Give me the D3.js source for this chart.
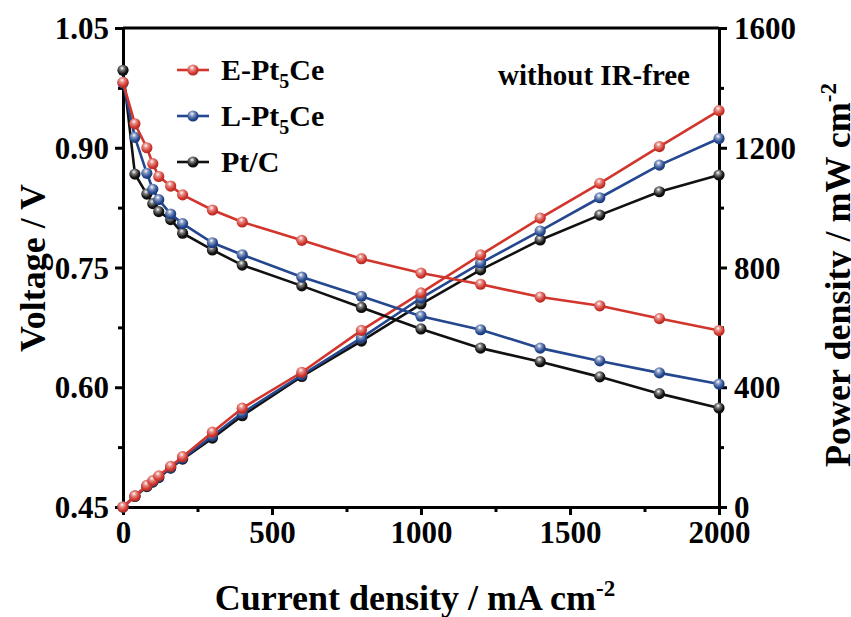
<!DOCTYPE html>
<html>
<head>
<meta charset="utf-8">
<script src="https://cdn.jsdelivr.net/npm/d3@7"></script>
<style>
  body { margin: 0; background: #fff; }
  svg text { font-family: "Liberation Serif", "Times New Roman", serif; font-weight: bold; }
</style>
</head>
<body>
<div id="chart"></div>
<script>
// data
var current = [0, 40, 80, 100, 120, 160, 200, 300, 400, 600, 800, 1000, 1200, 1400, 1600, 1800, 2000];

var voltE = [0.982, 0.930, 0.900, 0.880, 0.864, 0.852, 0.841, 0.822, 0.807, 0.784, 0.761, 0.743, 0.729, 0.713, 0.702, 0.686, 0.671];
var voltL = [0.981, 0.913, 0.868, 0.848, 0.835, 0.817, 0.805, 0.781, 0.766, 0.738, 0.714, 0.689, 0.672, 0.649, 0.633, 0.618, 0.604];
var voltPt = [0.997, 0.867, 0.842, 0.830, 0.820, 0.810, 0.793, 0.772, 0.753, 0.727, 0.700, 0.673, 0.649, 0.632, 0.613, 0.592, 0.574];

var powerE = [0, 37, 72, 88, 104, 136, 168, 250, 330, 450, 590, 715, 842, 965, 1081, 1204, 1324];
var powerL = [0, 37, 70, 85, 100, 131, 163, 237, 314, 441, 565, 698, 815, 922, 1033, 1142, 1231];
var powerPt = [0, 35, 68, 83, 98, 130, 160, 230, 305, 436, 554, 678, 792, 892, 975, 1053, 1109];

var xTicks = [0, 500, 1000, 1500, 2000];
var vTicks = [0.45, 0.60, 0.75, 0.90, 1.05];
var pTicks = [0, 400, 800, 1200, 1600];

var seriesNames = ['E-Pt5Ce', 'L-Pt5Ce', 'Pt/C'];
var colors = ['#d2352c', '#24478f', '#111111'];

var width = 851, height = 617;
var plotLeft = 123, plotRight = 719, plotTop = 28, plotBottom = 507;

var svg = d3.select('#chart').append('svg')
    .attr('width', width)
    .attr('height', height);

var defs = svg.append('defs');
colors.forEach(function(c, i) {
    var grad = defs.append('radialGradient')
        .attr('id', 'ball' + i)
        .attr('cx', '0.4').attr('cy', '0.35').attr('r', '0.65')
        .attr('fx', '0.42').attr('fy', '0.3');
    grad.append('stop').attr('offset', '0').attr('stop-color', '#ffffff');
    grad.append('stop').attr('offset', '0.3').attr('stop-color', d3.interpolateRgb('#ffffff', c)(0.55));
    grad.append('stop').attr('offset', '0.75').attr('stop-color', c);
    grad.append('stop').attr('offset', '1').attr('stop-color', d3.color(c).darker(0.6));
});

var x = d3.scaleLinear().domain([0, 2000]).range([plotLeft, plotRight]);
var yV = d3.scaleLinear().domain([0.45, 1.05]).range([plotBottom, plotTop]);
var yP = d3.scaleLinear().domain([0, 1600]).range([plotBottom, plotTop]);

var tickFont = '31px';

// axes
var xAxis = d3.axisBottom(x).tickValues(d3.range(0, 2001, 250)).tickSize(6)
    .tickFormat(function(d) { return xTicks.indexOf(d) >= 0 ? d : ''; });
var gx = svg.append('g').attr('transform', 'translate(0,' + plotBottom + ')').call(xAxis);
gx.selectAll('.tick line').attr('stroke-width', 3).attr('y2', function(d) { return xTicks.indexOf(d) >= 0 ? 8 : 5; });
gx.selectAll('.tick text').attr('y', 10).attr('dy', '0.85em').style('font-size', tickFont);

var vAll = d3.range(0, 9).map(function(i) { return +(0.45 + i * 0.075).toFixed(3); });
var yAxisL = d3.axisLeft(yV).tickValues(vAll).tickSize(6)
    .tickFormat(function(d) { return vTicks.some(function(t) { return Math.abs(t - d) < 1e-6; }) ? d3.format('.2f')(d) : ''; });
var gl = svg.append('g').attr('transform', 'translate(' + plotLeft + ',0)').call(yAxisL);
gl.selectAll('.tick line').attr('stroke-width', 3).attr('x2', function(d, i) { return i % 2 === 0 ? -8 : -5; });
gl.selectAll('.tick text').attr('x', -14).attr('dy', '0.34em').style('font-size', tickFont);

var yAxisR = d3.axisRight(yP).tickValues(d3.range(0, 1601, 200)).tickSize(6)
    .tickFormat(function(d) { return pTicks.indexOf(d) >= 0 ? d : ''; });
var gr = svg.append('g').attr('transform', 'translate(' + plotRight + ',0)').call(yAxisR);
gr.selectAll('.tick line').attr('stroke-width', 3).attr('x2', function(d) { return pTicks.indexOf(d) >= 0 ? 8 : 5; });
gr.selectAll('.tick text').attr('x', 15).attr('dy', '0.34em').style('font-size', tickFont);

svg.selectAll('.domain').attr('stroke-width', 3);
svg.selectAll('.tick text').attr('fill', '#000');

// top frame line
svg.append('line')
    .attr('x1', plotLeft).attr('x2', plotRight).attr('y1', plotTop).attr('y2', plotTop)
    .attr('stroke', '#000').attr('stroke-width', 3);

// axis titles
svg.append('text')
    .attr('x', 415).attr('y', 610)
    .attr('text-anchor', 'middle')
    .style('font-size', '36px')
    .html('Current density / mA cm<tspan dy="-14" font-size="23px">-2</tspan>');

svg.append('text')
    .attr('transform', 'translate(45,268) rotate(-90)')
    .attr('text-anchor', 'middle')
    .style('font-size', '36px')
    .text('Voltage / V');

svg.append('text')
    .attr('transform', 'translate(850,275) rotate(-90)')
    .attr('text-anchor', 'middle')
    .style('font-size', '36px')
    .html('Power density / mW cm<tspan dy="-14" font-size="23px">-2</tspan>');

// curves
var voltSeries = [voltE, voltL, voltPt];
var powerSeries = [powerE, powerL, powerPt];

function drawSeries(vals, yscale, i) {
    var pts = current.map(function(c, k) { return [c, vals[k]]; });
    var line = d3.line().x(function(d) { return x(d[0]); }).y(function(d) { return yscale(d[1]); });
    svg.append('path')
        .datum(pts)
        .attr('d', line)
        .attr('fill', 'none')
        .attr('stroke', colors[i])
        .attr('stroke-width', 2.6);
    svg.append('g').selectAll('circle')
        .data(pts)
        .enter()
        .append('circle')
        .attr('cx', function(d) { return x(d[0]); })
        .attr('cy', function(d) { return yscale(d[1]); })
        .attr('r', 5.6)
        .attr('fill', 'url(#ball' + i + ')');
}

// draw black first so red sits on top
[2, 1, 0].forEach(function(i) {
    drawSeries(powerSeries[i], yP, i);
});
[2, 1, 0].forEach(function(i) {
    drawSeries(voltSeries[i], yV, i);
});

// legend
var legendY = [70, 116, 162];
seriesNames.forEach(function(name, i) {
    var g = svg.append('g');
    g.append('line')
        .attr('x1', 177).attr('x2', 209)
        .attr('y1', legendY[i]).attr('y2', legendY[i])
        .attr('stroke', colors[i]).attr('stroke-width', 2.6);
    g.append('circle')
        .attr('cx', 193).attr('cy', legendY[i]).attr('r', 5.6)
        .attr('fill', 'url(#ball' + i + ')');
    var t = g.append('text')
        .attr('x', 221).attr('y', legendY[i] + 10)
        .style('font-size', '30px');
    if (name.indexOf('Pt5') >= 0) {
        var parts = name.split('5');
        t.append('tspan').text(parts[0]);
        t.append('tspan').attr('dy', 8).style('font-size', '20px').text('5');
        t.append('tspan').attr('dy', -8).text(parts[1]);
    } else {
        t.text(name);
    }
});

svg.append('text')
    .attr('x', 690).attr('y', 85)
    .attr('text-anchor', 'end')
    .style('font-size', '29px')
    .text('without IR-free');
</script>
</body>
</html>
